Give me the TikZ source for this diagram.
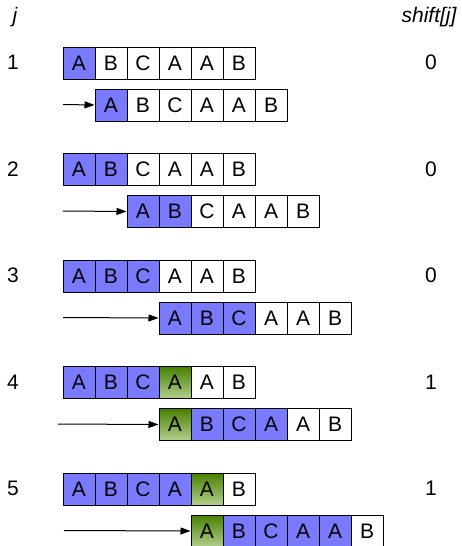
\documentclass[tikz,border=0pt]{standalone}
\usepackage{fontspec}
\setmainfont{Liberation Sans}
\usetikzlibrary{positioning,arrows.meta}
\definecolor{matchblue}{RGB}{122,122,255}
\definecolor{shiftgreen}{RGB}{72,128,0}
\definecolor{shiftlight}{RGB}{178,208,142}

\begin{document}
\begin{tikzpicture}[x=1pt,y=-1pt,
  cell/.style={rectangle, draw=black, line width=1pt,
               minimum width=32pt, minimum height=32pt, inner sep=0pt,
               anchor=north west, font=\fontsize{21}{21}\selectfont},
  lbl/.style={font=\fontsize{21}{21}\selectfont},
  hdr/.style={font=\fontsize{21}{21}\selectfont\itshape},
  arr/.style={-{Triangle[length=10pt,width=7pt]}, line width=1pt}
]
  \useasboundingbox (0,0) rectangle (462,546);

  \node[hdr, anchor=base west] (hj) at (9,23) {j};
  \node[hdr, anchor=base east] (hshift) at (460,23) {shift[j]};

  % j / shift[j] / blue cells / green cell / arrow start
  \foreach \j/\s/\nb/\gr/\xs in {1/0/1/0/63, 2/0/2/0/63, 3/0/3/0/63,
                                 4/1/3/1/58, 5/1/4/1/64} {
    \pgfmathsetmacro\yt{46.5+(\j-1)*106.5}
    \node[lbl] (j\j) at (13,\yt+16) {\j};
    \node[lbl] (s\j) at (431,\yt+16) {\s};

    % text row
    \foreach \ch [count=\i] in {A,B,C,A,A,B} {
      \def\ct{white}\def\cb{white}
      \ifnum\i>\nb\relax\else\def\ct{matchblue}\def\cb{matchblue}\fi
      \ifnum\gr=1 \ifnum\i=\numexpr\nb+1\relax
        \def\ct{shiftgreen}\def\cb{shiftlight}\fi\fi
      \node[cell, top color=\ct, bottom color=\cb] (t\j-\i)
        at ({62.5+(\i-1)*32},\yt) {\ch};
    }

    % shifted pattern
    \foreach \ch [count=\i] in {A,B,C,A,A,B} {
      \def\ct{white}\def\cb{white}
      \ifnum\i>\numexpr\nb+\gr\relax\else\def\ct{matchblue}\def\cb{matchblue}\fi
      \ifnum\gr=1 \ifnum\i=1
        \def\ct{shiftgreen}\def\cb{shiftlight}\fi\fi
      \node[cell, top color=\ct, bottom color=\cb] (p\j-\i)
        at ({62.5+(\j-\s+\i-1)*32},\yt+42) {\ch};
    }

    \coordinate (a\j) at (\xs,\yt+58);
    \draw[arr] (a\j) -- (p\j-1.west);
  }
\end{tikzpicture}
\end{document}
